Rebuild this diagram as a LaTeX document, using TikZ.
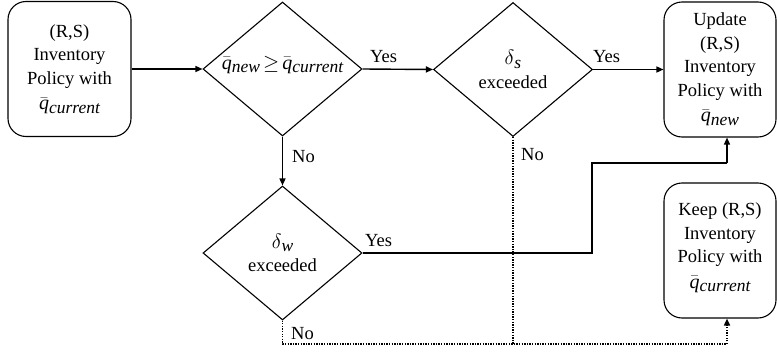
\documentclass[tikz,border=0pt]{standalone}
\usepackage{fontspec}
\setmainfont{Liberation Serif}
\usetikzlibrary{shapes.geometric,arrows.meta}
% italic symbol with a large italic subscript
\newcommand{\subit}[1]{\hbox{\fontsize{17.5}{17.5}\selectfont\itshape #1}}
\newcommand{\qv}[1]{{\fontsize{20}{20}\selectfont$\bar{\mathit{q}}$}\raisebox{-3.5pt}{\subit{#1}}}
\newcommand{\dv}[1]{{\fontsize{21}{21}\selectfont$\delta$}\raisebox{-3.5pt}{\subit{#1}}}
\begin{document}
\begin{tikzpicture}[x=1pt,y=-1pt,
  every node/.style={font=\fontsize{18.5}{23.5}\selectfont},
  statebox/.style={draw,line width=1.1pt,rounded corners=18pt,inner sep=0pt},
  decision/.style={draw,diamond,line width=1.1pt,inner sep=0pt,minimum width=159pt,minimum height=134pt},
  txt/.style={align=center,inner sep=0pt},
  flow/.style={line width=1.4pt,-{Triangle[length=7pt,width=6pt]}},
  flowplain/.style={line width=1.4pt},
  altflow/.style={line width=1.6pt,dash pattern=on 1.3pt off 1.3pt},
  altarrow/.style={altflow,-{Triangle[length=7pt,width=6pt]}},
  lbl/.style={inner sep=0pt,anchor=base west}]
\useasboundingbox (0,0) rectangle (777,356);

% boxes
\node[statebox,minimum width=123pt,minimum height=135pt] (start) at (69.5,69) {};
\node[txt] at (start) {(R,S)\\Inventory\\Policy with\\[2pt]\qv{current}};
\node[statebox,minimum width=112pt,minimum height=135pt] (upd) at (720,69.5) {};
\node[txt] at (upd) {Update\\(R,S)\\Inventory\\Policy with\\[2pt]\qv{new}};
\node[statebox,minimum width=112pt,minimum height=135pt] (keep) at (720,250.5) {};
\node[txt] at ([yshift=3pt]keep.center) {Keep (R,S)\\Inventory\\Policy with\\[2pt]\qv{current}};

% decisions
\node[decision] (cmp) at (282.5,69) {};
\node[txt] at ([yshift=4pt]cmp.center) {\qv{new}\,{\fontsize{20}{20}\selectfont$\geq$}\,\qv{current}};
\node[decision] (ds) at (513,69.5) {};
\node[txt] at (ds) {\dv{s}\\exceeded};
\node[decision] (dw) at (282.5,253) {};
\node[txt] at (dw) {\dv{w}\\exceeded};

% bends
\coordinate (bendA) at (592,253);
\coordinate (bendB) at (592,163);
\coordinate (bendC) at (727,163);
\coordinate (lowL) at (282.5,344);
\coordinate (lowR) at (727,344);
\coordinate (lowM) at (513,344);

% connectors
\draw[flow] (start.east) -- (cmp.west);
\draw[flow] (cmp.east) -- (ds.west);
\draw[flow] (ds.east) -- (upd.west);
\draw[flow] (cmp.south) -- (dw.north);
\draw[flowplain] (dw.east) -- (bendA) -- (bendB) -- (bendC);
\draw[flow] (bendC) -- (upd.south -| bendC);
\draw[altflow] (ds.south) -- (lowM);
\draw[altflow] (dw.south) -- (lowL) -- (lowR);
\draw[altarrow] (lowR) -- (keep.south -| lowR);

% labels
\node[lbl] at (370,62) {Yes};
\node[lbl] at (593,62) {Yes};
\node[lbl] at (365,246) {Yes};
\node[lbl] at (292,162) {No};
\node[lbl] at (521,160) {No};
\node[lbl] at (291,339) {No};
\end{tikzpicture}
\end{document}
